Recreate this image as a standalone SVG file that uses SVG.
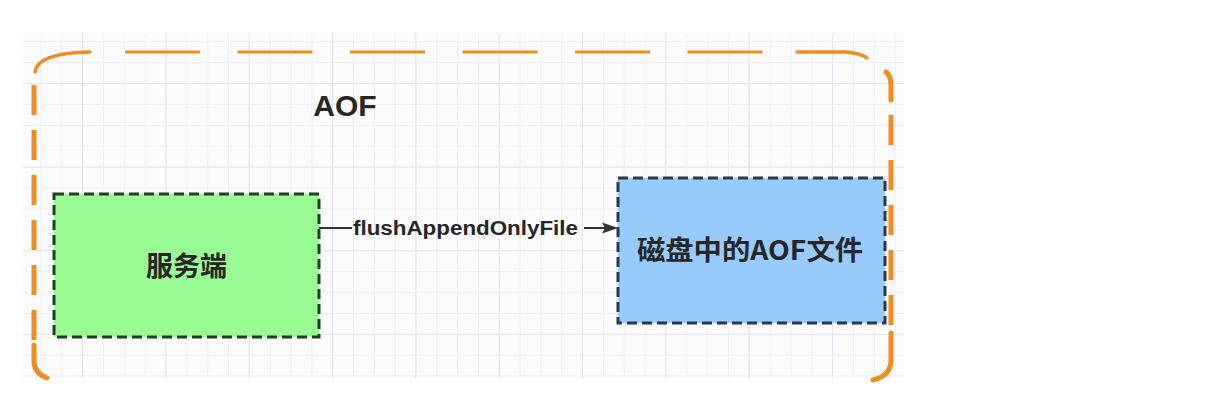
<svg xmlns="http://www.w3.org/2000/svg" width="1231" height="405" viewBox="0 0 1231 405">
<defs>
<pattern id="minor" patternUnits="userSpaceOnUse" x="40.5" y="41.2" width="20.833" height="20.9">
<path d="M0.5,0 V20.9 M0,0.5 H20.833" fill="none" stroke="#efeff3" stroke-width="1"/>
</pattern>
<pattern id="major" patternUnits="userSpaceOnUse" x="82" y="83" width="83.33" height="83.6">
<path d="M0.5,0 V83.6 M0,0.5 H83.33" fill="none" stroke="#e4e4ea" stroke-width="1"/>
</pattern>
</defs>
<style>
.orange{fill:none;stroke:#ef8d20;stroke-linecap:butt}
.oh{stroke-width:3;stroke-dasharray:75 37.5}
.ov{stroke-width:5;stroke-dasharray:30 15}
.oc{stroke-width:4;stroke-linecap:round}
.node{stroke-width:3;stroke-dasharray:10 5}
.label{font-family:"Liberation Sans","Noto Sans CJK SC",sans-serif;font-weight:bold;fill:#262626}
.cjk{font-family:"Noto Sans CJK SC","Liberation Sans",sans-serif;font-weight:bold;fill:#262626}
.edge{fill:none;stroke:#333333;stroke-width:2}
</style>
<rect width="1231" height="405" fill="#ffffff"/>
<g id="grid">
<rect x="23" y="33" width="881" height="345" fill="#fbfbfc"/>
<rect x="23" y="33" width="881" height="345" fill="url(#minor)"/>
<rect x="23" y="33" width="881" height="345" fill="url(#major)"/>
</g>
<g id="container">
<path class="orange oh" d="M125,52 H797"/>
<path class="orange oc" style="stroke-width:3.5" d="M35,72 Q37,53 90,52"/>
<path class="orange oc" style="stroke-width:3.5" d="M797,52 L845,52 Q860,53 867,58"/>
<path class="orange ov" d="M34,85 V345"/>
<path class="orange oc" style="stroke-width:5" d="M34,345 L34,362 Q35,374 47,378"/>
<path class="orange oc" style="stroke-width:5" d="M886,72 Q891,76 891,85 L891,100"/>
<path class="orange ov" d="M891,115 V332"/>
<path class="orange oc" style="stroke-width:5" d="M891,333 L891,360 Q891,376 873,380"/>
<text class="label" x="345" y="116" font-size="30" text-anchor="middle">AOF</text>
</g>
<g id="node-server">
<rect class="node" x="54" y="194" width="265" height="143" fill="#99fb94" stroke="#233d23"/>
<text class="cjk" x="186.5" y="276" font-size="27" text-anchor="middle">服务端</text>
</g>
<g id="node-aof-file">
<rect class="node" x="618" y="178" width="267" height="145" fill="#99cafc" stroke="#2a3847"/>
<text class="cjk" x="637" y="260" font-size="27" textLength="226" lengthAdjust="spacingAndGlyphs">磁盘中的AOF文件</text>
</g>
<g id="connectors">
<path class="edge" d="M319,228 H352"/>
<path class="edge" d="M584,228 H606"/>
<path d="M602,222.5 L618,228 L602,233.5 L605,228 Z" fill="#333333"/>
<text class="label" x="353" y="235" font-size="20" textLength="225" lengthAdjust="spacingAndGlyphs">flushAppendOnlyFile</text>
</g>
</svg>
